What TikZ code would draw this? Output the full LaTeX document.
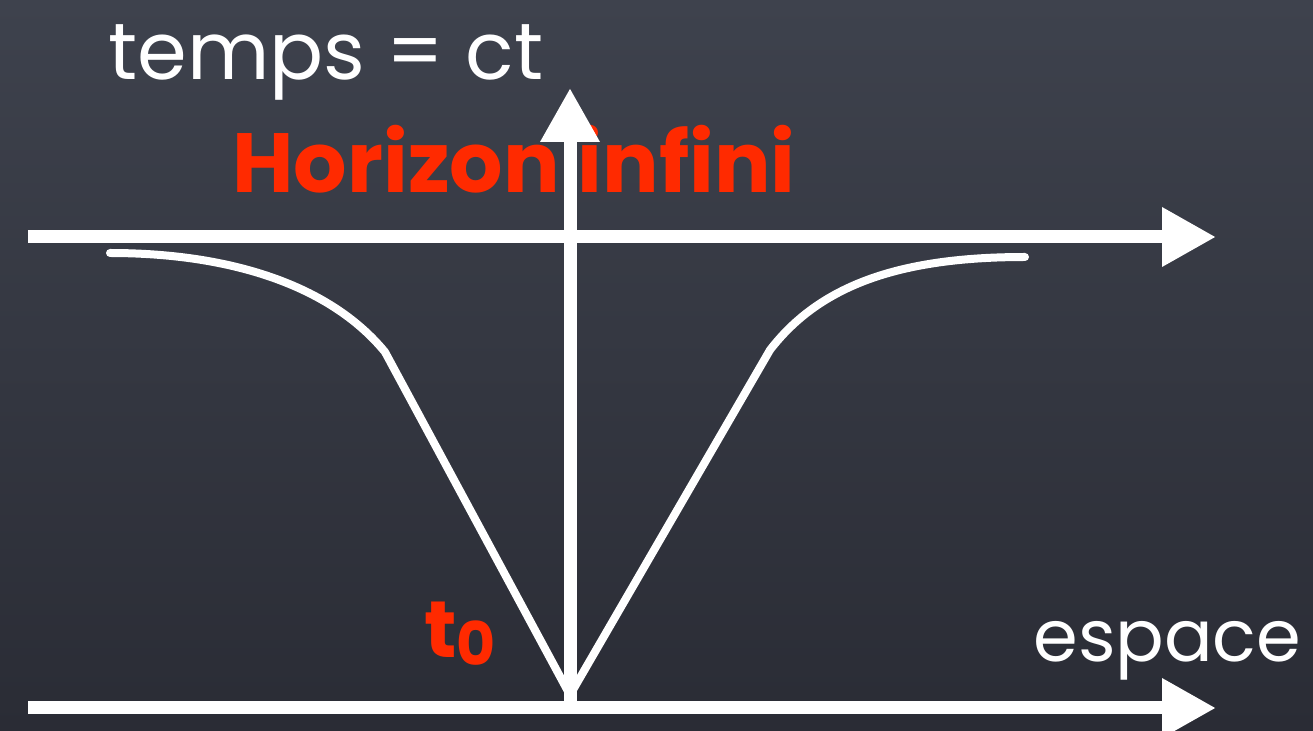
\documentclass[tikz,border=0pt]{standalone}
\usepackage{fontspec}
\setmainfont{Poppins}
\usetikzlibrary{arrows.meta}
\definecolor{boardtop}{HTML}{3E424D}
\definecolor{boardbot}{HTML}{2A2C35}
\definecolor{chalkred}{HTML}{FF2A00}
\tikzset{
  axis/.style={white, line width=6.5pt, -{Triangle[length=27pt,width=28pt]}},
  curveline/.style={white, line width=4pt, line join=round, line cap=round},
  whitelabel/.style={white, inner sep=0pt, anchor=base west, font=\fontsize{40}{48}\selectfont},
  redlabel/.style={chalkred, inner sep=0pt, anchor=base west, font=\bfseries\fontsize{42}{50}\selectfont}
}
\begin{document}
\begin{tikzpicture}[x=0.5pt,y=-0.5pt]
\shade[top color=boardtop, bottom color=boardbot] (0,0) rectangle (1313,731);
\useasboundingbox (0,0) rectangle (1313,731);
% labels
\node[whitelabel] (temps) at (108,80) {temps = ct};
\node[redlabel] (horizon) at (232,193) {Horizon infini};
\node[whitelabel, font=\fontsize{36}{44}\selectfont] (espace) at (1033,662) {espace};
\node[redlabel, font=\bfseries\fontsize{40}{48}\selectfont] (tzero) at (424,658) {t\raisebox{-4pt}{\fontsize{30}{36}\selectfont 0}};
% coordinates
\coordinate (hl) at (28,237);
\coordinate (hr) at (1216,237);
\coordinate (bl) at (28,708);
\coordinate (br) at (1216,708);
\coordinate (o) at (570,702);
\coordinate (vt) at (570,88);
\coordinate (cl) at (110,253);
\coordinate (cr) at (1025,257);
\coordinate (v) at (570,695);
% curve
\draw[curveline] (cl) .. controls (230,253) and (330,285) .. (385,352) -- (v)
  -- (770,350) .. controls (820,285) and (900,257) .. (cr);
% axes
\draw[axis] (hl) -- (hr);
\draw[axis] (bl) -- (br);
\draw[axis] (o) -- (vt);
\end{tikzpicture}
\end{document}
